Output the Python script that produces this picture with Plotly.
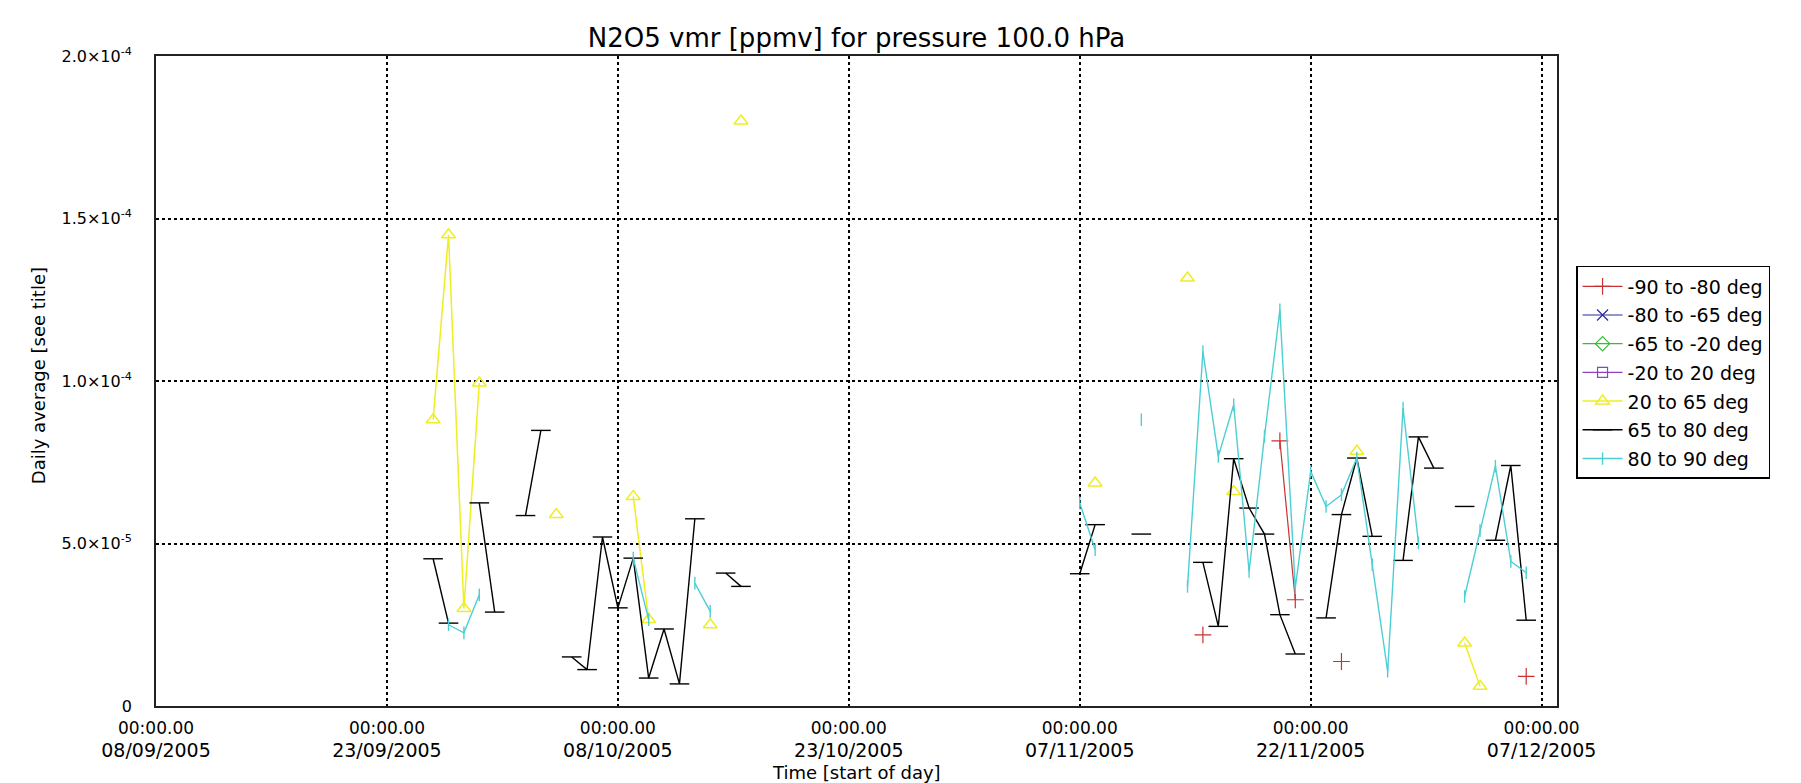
import plotly.graph_objects as go
from datetime import date, timedelta

# ---------------- data ----------------
x_tick_vals = ["2005-09-08", "2005-09-23", "2005-10-08", "2005-10-23",
               "2005-11-07", "2005-11-22", "2005-12-07"]
x_tick_time = ["00:00.00"] * 7
x_tick_date = ["08/09/2005", "23/09/2005", "08/10/2005", "23/10/2005",
               "07/11/2005", "22/11/2005", "07/12/2005"]
y_tick_vals = [0, 5e-5, 1e-4, 1.5e-4, 2e-4]
y_tick_text = ["0", "5.0×10<sup>-5</sup>", "1.0×10<sup>-4</sup>",
               "1.5×10<sup>-4</sup>", "2.0×10<sup>-4</sup>"]

s1_dates = ["2005-11-15", "2005-11-20", "2005-11-21", "2005-11-24", "2005-12-06"]
s1_vals = [2.19e-5, 8.16e-5, 3.27e-5, 1.37e-5, 9.1e-6]

s2_dates = ["2005-09-08"]
s2_vals = [None]
s3_dates = ["2005-09-08"]
s3_vals = [None]
s4_dates = ["2005-09-08"]
s4_vals = [None]

s5_dates = ["2005-09-26", "2005-09-27", "2005-09-28", "2005-09-29", "2005-10-04",
            "2005-10-09", "2005-10-10", "2005-10-14", "2005-10-16", "2005-11-08",
            "2005-11-14", "2005-11-17", "2005-11-25", "2005-12-02", "2005-12-03"]
s5_vals = [8.81e-5, 1.45e-4, 3.0e-5, 9.94e-5, 5.89e-5,
           6.45e-5, 2.66e-5, 2.5e-5, 1.80e-4, 6.86e-5,
           1.317e-4, 6.6e-5, 7.84e-5, 1.94e-5, 6.1e-6]

s6_dates = ["2005-09-26", "2005-09-27", "2005-09-29", "2005-09-30", "2005-10-02",
            "2005-10-03", "2005-10-05", "2005-10-06", "2005-10-07", "2005-10-08",
            "2005-10-09", "2005-10-10", "2005-10-11", "2005-10-12", "2005-10-13",
            "2005-10-15", "2005-10-16", "2005-11-07", "2005-11-08", "2005-11-11",
            "2005-11-15", "2005-11-16", "2005-11-17", "2005-11-18", "2005-11-19",
            "2005-11-20", "2005-11-21", "2005-11-23", "2005-11-24", "2005-11-25",
            "2005-11-26", "2005-11-28", "2005-11-29", "2005-11-30", "2005-12-02",
            "2005-12-04", "2005-12-05", "2005-12-06"]
s6_vals = [4.53e-5, 2.55e-5, 6.25e-5, 2.89e-5, 5.86e-5,
           8.48e-5, 1.51e-5, 1.12e-5, 5.2e-5, 3.02e-5,
           4.55e-5, 8.6e-6, 2.37e-5, 6.8e-6, 5.76e-5,
           4.09e-5, 3.68e-5, 4.07e-5, 5.58e-5, 5.29e-5,
           4.42e-5, 2.45e-5, 7.61e-5, 6.09e-5, 5.29e-5,
           2.81e-5, 1.6e-5, 2.71e-5, 5.89e-5, 7.63e-5,
           5.22e-5, 4.48e-5, 8.28e-5, 7.32e-5, 6.14e-5,
           5.1e-5, 7.4e-5, 2.64e-5]

s7_dates = ["2005-09-27", "2005-09-28", "2005-09-29", "2005-10-09", "2005-10-10",
            "2005-10-13", "2005-10-14", "2005-11-07", "2005-11-08", "2005-11-11",
            "2005-11-14", "2005-11-15", "2005-11-16", "2005-11-17", "2005-11-18",
            "2005-11-19", "2005-11-20", "2005-11-21", "2005-11-22", "2005-11-23",
            "2005-11-24", "2005-11-25", "2005-11-26", "2005-11-27", "2005-11-28",
            "2005-11-29", "2005-12-02", "2005-12-03", "2005-12-04", "2005-12-05",
            "2005-12-06"]
s7_vals = [2.5e-5, 2.25e-5, 3.42e-5, 4.55e-5, 2.66e-5,
           3.78e-5, 2.91e-5, 6.25e-5, 4.81e-5, 8.81e-5,
           3.68e-5, 1.091e-4, 7.68e-5, 9.27e-5, 4.14e-5,
           8.3e-5, 1.219e-4, 3.63e-5, 7.22e-5, 6.14e-5,
           6.5e-5, 7.63e-5, 4.35e-5, 1.07e-5, 9.17e-5,
           5.02e-5, 3.37e-5, 5.4e-5, 7.38e-5, 4.45e-5,
           4.1e-5]

names = ["-90 to -80 deg", "-80 to -65 deg", "-65 to -20 deg", "-20 to 20 deg",
         "20 to 65 deg", "65 to 80 deg", "80 to 90 deg"]

X_RANGE = ["2005-09-08", "2005-12-08"]


def with_gaps(dates, vals):
    """Break the line where consecutive days are missing."""
    xs, ys = [], []
    prev = None
    for d, v in zip(dates, vals):
        dd = date.fromisoformat(d)
        if prev is not None and (dd - prev).days > 1:
            xs.append((prev + timedelta(days=1)).isoformat())
            ys.append(None)
        xs.append(d)
        ys.append(v)
        prev = dd
    return xs, ys


styles = [
    dict(color="#c83232", symbol="cross-thin", size=12, lw=1.2),
    dict(color="#28289c", symbol="x-thin", size=11, lw=1.2),
    dict(color="#30c030", symbol="diamond-open", size=11, lw=1.2),
    dict(color="#9040c0", symbol="square-open", size=10, lw=1.2),
    dict(color="#eeee22", symbol="triangle-up-open", size=12, lw=1.5),
    dict(color="#000000", symbol="line-ew", size=14, lw=1.4),
    dict(color="#4ccfd4", symbol="line-ns", size=9, lw=1.4),
]

series = [(s1_dates, s1_vals), (s2_dates, s2_vals), (s3_dates, s3_vals),
          (s4_dates, s4_vals), (s5_dates, s5_vals), (s6_dates, s6_vals),
          (s7_dates, s7_vals)]

fig = go.Figure()
for i, ((dts, vls), nm, st) in enumerate(zip(series, names, styles)):
    xs, ys = with_gaps(dts, vls)
    fig.add_trace(go.Scatter(
        x=xs, y=ys, name=nm, mode="lines+markers", connectgaps=False,
        legendgroup=f"g{i}",
        line=dict(color=st["color"], width=st["lw"]),
        marker=dict(symbol=st["symbol"], size=st["size"], color=st["color"],
                    line=dict(color=st["color"], width=st["lw"])),
    ))

# invisible helper trace so the second (date-line) x axis is drawn
fig.add_trace(go.Scatter(x=[X_RANGE[0]], y=[None], xaxis="x2", yaxis="y",
                         showlegend=False, hoverinfo="skip", mode="markers"))

FONT = "DejaVu Sans"
fig.update_layout(
    width=1801, height=783,
    margin=dict(l=148, r=252, t=48, b=85),
    paper_bgcolor="white", plot_bgcolor="white",
    font=dict(family=FONT, color="black", size=16),
    title=dict(text="N2O5 vmr [ppmv] for pressure 100.0 hPa",
               x=0.5, xref="paper", xanchor="center",
               y=1 - 30 / 783, yref="container", yanchor="middle",
               font=dict(family=FONT, size=26, color="black")),
    showlegend=True,
    legend=dict(x=1.0136, xanchor="left", y=0.677, yanchor="top",
                xref="paper", yref="paper",
                bordercolor="black", borderwidth=1.5, bgcolor="white",
                font=dict(family=FONT, size=19, color="black"),
                traceorder="grouped", tracegroupgap=1, itemwidth=40),
    xaxis=dict(
        type="date", range=X_RANGE,
        tickmode="array", tickvals=x_tick_vals, ticktext=x_tick_time,
        tickfont=dict(family=FONT, size=17, color="black"),
        ticks="outside", ticklen=6, tickcolor="rgba(0,0,0,0)",
        showgrid=True, gridcolor="black", griddash="dot", gridwidth=1.5,
        showline=True, linecolor="#222222", linewidth=1.8, mirror=True,
        zeroline=False,
    ),
    xaxis2=dict(
        type="date", range=X_RANGE, overlaying="x", side="bottom",
        anchor="y", matches="x",
        tickmode="array", tickvals=x_tick_vals, ticktext=x_tick_date,
        tickfont=dict(family=FONT, size=19, color="black"),
        ticks="outside", ticklen=27, tickcolor="rgba(0,0,0,0)",
        showgrid=False, showline=False, zeroline=False,
    ),
    yaxis=dict(
        range=[0, 2e-4],
        tickmode="array", tickvals=y_tick_vals, ticktext=y_tick_text,
        tickfont=dict(family=FONT, size=16, color="black"),
        ticks="outside", ticklen=19, tickcolor="rgba(0,0,0,0)",
        showgrid=True, gridcolor="black", griddash="dot", gridwidth=1.5,
        showline=True, linecolor="#222222", linewidth=1.8, mirror=True,
        zeroline=False,
    ),
    annotations=[
        dict(text="Time [start of day]", xref="paper", yref="paper",
             x=0.5, y=(698 - 764) / 650, xanchor="center", yanchor="middle",
             showarrow=False, font=dict(family=FONT, size=18, color="black")),
        dict(text="Daily average [see title]", xref="paper", yref="paper",
             x=(30 - 148) / 1401, y=0.509, xanchor="center", yanchor="middle",
             textangle=-90, showarrow=False,
             font=dict(family=FONT, size=18, color="black")),
    ],
)

fig.write_html("out.html")
